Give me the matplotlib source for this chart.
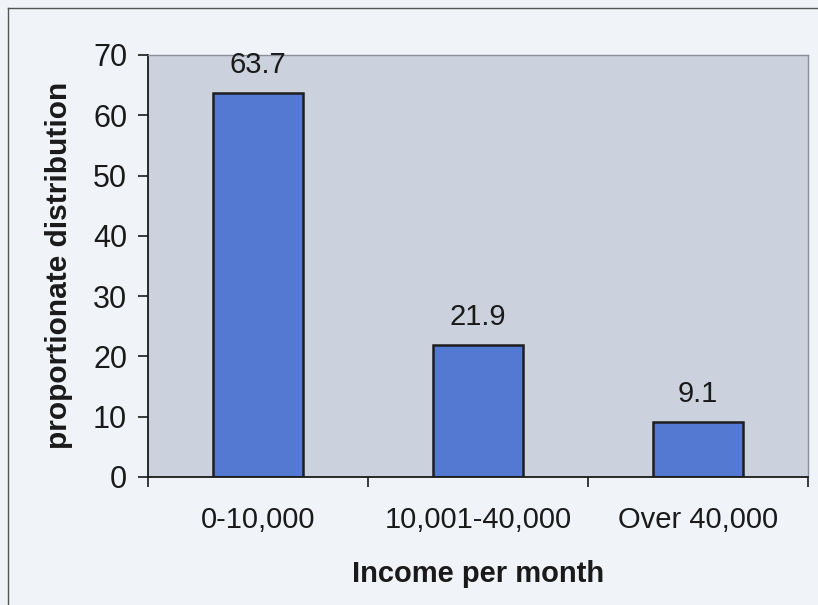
import matplotlib.pyplot as plt
from matplotlib.lines import Line2D

plt.rcParams['font.family'] = ['Liberation Sans', 'DejaVu Sans']

categories = ['0-10,000', '10,001-40,000', 'Over 40,000']
shares = [63.7, 21.9, 9.1]
y_ticks = [0, 10, 20, 30, 40, 50, 60, 70]

fig = plt.figure(figsize=(8.18, 6.05), dpi=100)
fig.patch.set_facecolor('#f0f3f8')
ax = fig.add_axes([148 / 818, 1 - 477 / 605, 660 / 818, 422 / 605])
ax.set_facecolor('#cbd2dd')

x = range(len(categories))
bars = ax.bar(x, shares, width=0.41, color='#5479d2', edgecolor='#1e1e1e', linewidth=1.8)
for b, v in zip(bars, shares):
    ax.text(b.get_x() + b.get_width() / 2, v + 2.3, f'{v}', ha='center', va='bottom',
            fontsize=21, color='#1a1a1a')

ax.set_xlim(-0.5, len(categories) - 0.5)
ax.set_ylim(0, 70)
ax.set_yticks(y_ticks)
ax.tick_params(axis='y', labelsize=22, length=7, width=1.2, colors='#1a1a1a', pad=8)

# category labels centred, tick marks on the boundaries
ax.set_xticks(list(x))
ax.set_xticklabels(categories, fontsize=21, color='#1a1a1a')
ax.tick_params(axis='x', which='major', length=0, pad=21)
ax.set_xticks([i - 0.5 for i in range(len(categories) + 1)], minor=True)
ax.tick_params(axis='x', which='minor', length=7, width=1.2, colors='#1a1a1a')

for side in ['top', 'right']:
    ax.spines[side].set_color('#8a8f99')
    ax.spines[side].set_linewidth(1.0)
for side in ['left', 'bottom']:
    ax.spines[side].set_color('#1a1a1a')
    ax.spines[side].set_linewidth(1.3)

ax.set_xlabel('Income per month', fontsize=21, fontweight='bold', color='#1a1a1a')
ax.xaxis.set_label_coords(0.5, -(560 - 477) / 422)
ax.set_ylabel('proportionate distribution', fontsize=21.5, fontweight='bold', color='#1a1a1a')
ax.yaxis.set_label_coords(-(148 - 73) / 660, (477 - 265) / 422)

# page frame lines
fig.add_artist(Line2D([8 / 818, 8 / 818], [0, 1 - 8 / 605], color='#555555', lw=1.0))
fig.add_artist(Line2D([8 / 818, 1], [1 - 8 / 605, 1 - 8 / 605], color='#555555', lw=1.0))

fig.savefig('out.png', dpi=100, facecolor=fig.get_facecolor())
